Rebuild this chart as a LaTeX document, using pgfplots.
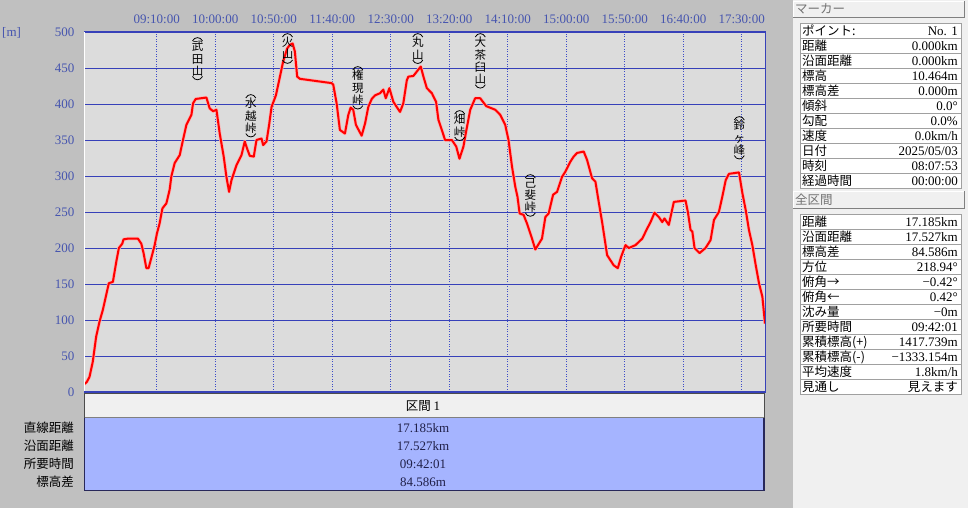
\documentclass[border=0pt]{standalone}
\usepackage{pgfplots}
\pgfplotsset{compat=1.18}
\usepackage{fontspec}
\setmainfont{Liberation Serif}
\newfontfamily\jp{Noto Sans CJK JP}
\definecolor{bgL}{RGB}{192,192,192}
\definecolor{bgR}{RGB}{240,240,240}
\definecolor{plotbg}{RGB}{220,220,220}
\definecolor{gridblue}{RGB}{55,65,185}
\definecolor{dotblue}{RGB}{60,75,200}
\definecolor{tickblue}{RGB}{70,85,175}
\definecolor{tblue}{RGB}{165,180,255}
\definecolor{navy}{RGB}{40,40,90}
\definecolor{tline}{RGB}{160,160,160}
\newcommand{\J}{\jp\fontsize{12.5bp}{15bp}\selectfont}
\newcommand{\N}{\rmfamily\fontsize{13bp}{15bp}\selectfont}
\newcommand{\prow}[3]{\node[anchor=base west,inner sep=0] at (802,#1+4.5) {\J #2};\node[anchor=base east,inner sep=0] at (958,#1+4.5) {#3};}
\newcommand{\vlab}[3]{%
  \node[anchor=north,inner sep=0,align=center,font=\jp\fontsize{11.5bp}{12.3bp}\selectfont] (L) at (#1,#2+5) {#3};
  \draw[line width=0.8bp] (#1-5,#2+5) .. controls (#1-3,#2+0.5) and (#1+3,#2+0.5) .. (#1+5,#2+5);
  \draw[line width=0.8bp] ([shift={(-5bp,0bp)}]L.south) .. controls ([shift={(-3bp,-4.5bp)}]L.south) and ([shift={(3bp,-4.5bp)}]L.south) .. ([shift={(5bp,0bp)}]L.south);
}
\pgfplotstableread{
t e
0 10.5
2.4 14
4.7 21
7.5 42
10.4 77
13.3 98
16.1 114
19.0 135
21.2 151
24.7 153
27.6 181
29.8 200
32.7 206
33.8 212
37.5 213
46.1 213
49.0 206
50.9 193
53.3 172
55.2 172
57.5 186
60.4 204
62.3 220
64.6 234
67.0 255
70.4 262
73.2 281
74.7 300
77.5 318
81.8 329
84.6 350
87.5 371
91.8 385
93.2 401
95.5 407
104.6 409
107.4 394
110.3 390
113.2 392
116.0 359
119.4 327
121.7 299
124.0 278
126.0 294
130.3 315
134.6 329
137.4 348
139.4 338
141.7 328
145.1 327
147.4 350
151.7 352
153.1 343
156.0 348
158.2 371
160.3 396
164.0 412
166.8 433
170.2 459
173.6 477
175.9 482
178.3 484
180.2 473
182.2 438
184.5 435
211.6 429
213.0 427
215.9 401
218.7 364
223.0 359
225.9 385
227.9 395
230.1 392
232.4 371
237.3 356
240.2 373
243.0 396
245.9 407
248.7 412
253.0 415
255.8 420
257.9 408
261.0 422
264.4 403
270.1 389
272.9 401
275.9 433
277.2 438
281.5 439
284.4 445
287.8 452
290.1 438
293.0 422
297.3 415
300.9 403
302.9 378
305.8 364
308.6 350
314.4 350
318.1 341
320.9 324
324.3 341
326.6 362
330.1 392
334.3 408
338.6 408
343.8 397
351.5 392
355.7 385
360.0 371
362.8 350
365.8 313
368.6 285
370.5 271
372.3 248
375.7 246
378.6 234
382.9 213
385.7 198
391.4 213
394.3 243
397.1 248
400.9 274
404.3 278
408.6 299
411.4 306
415.7 320
418.5 327
421.4 332
427.1 334
430.0 322
434.2 297
437.1 292
439.9 264
442.8 236
447.1 190
452.7 176
456.2 172
459.1 188
462.8 204
465.6 200
471.3 204
477.1 213
481.3 227
484.2 236
487.6 249
491.3 243
494.2 236
496.1 241
499.8 232
504.1 264
514.1 266
516.1 250
518.4 225
519.9 223
521.8 200
526.1 193
531.2 200
535.5 211
538.4 239
542.6 250
545.5 271
548.4 294
551.2 303
559.8 305
562.7 276
565.5 253
568.3 225
571.2 204
574.1 176
576.9 151
579.8 132
582.0 95
}\profile
\begin{document}
\begin{tikzpicture}
\begin{scope}[x=1bp,y=-1bp]
\fill[bgL] (0,0) rectangle (793,508);
\fill[bgR] (793,0) rectangle (968,508);
\end{scope}
\begin{axis}[
  at={(84bp,-392bp)}, anchor=south west, scale only axis,
  width=681bp, height=360bp,
  xmin=0, xmax=582.02, ymin=0, ymax=500,
  axis background/.style={fill=plotbg},
  axis line style={draw=none},
  xtick={62.12,112.12,162.12,212.12,262.12,312.12,362.12,412.12,462.12,512.12,562.12},
  xticklabels={09:10:00,10:00:00,10:50:00,11:40:00,12:30:00,13:20:00,14:10:00,15:00:00,15:50:00,16:40:00,17:30:00},
  xticklabel pos=upper,
  ytick={0,50,100,150,200,250,300,350,400,450,500},
  yticklabels={0,50,100,150,200,250,300,350,400,450,500},
  major tick length=0pt,
  tick label style={font=\N, text=tickblue},
  xticklabel style={yshift=5bp},
  yticklabel style={xshift=-6bp},
  xmajorgrids, ymajorgrids,
  x grid style={dotblue, line width=1bp, dash pattern=on 1bp off 1.5bp},
  y grid style={gridblue, line width=1bp},
]
\addplot[red!30, line width=3.4bp, line join=round, forget plot] table[x=t,y=e] {\profile};
\addplot[red, line width=2bp, line join=round] table[x=t,y=e] {\profile};
\end{axis}
\begin{scope}[x=1bp,y=-1bp]
% plot frame
\draw[white, line width=1bp] (84.5,31) -- (84.5,392);
\draw[gridblue, line width=1.6bp] (84,31.5) -- (766,31.5);
\draw[gridblue, line width=1.6bp] (765.5,31) -- (765.5,392.5);
\draw[gridblue, line width=1.6bp] (84,392) -- (766,392);
\node[text=tickblue, font=\N, anchor=west, inner sep=0] at (2,33) {[m]};
% peak labels
\vlab{197.5}{36}{武\\田\\山}
\vlab{250.8}{93}{水\\越\\峠}
\vlab{287.5}{32}{火\\山}
\vlab{357.8}{65}{権\\現\\峠}
\vlab{417.8}{32}{丸\\山}
\vlab{480.3}{32}{大\\茶\\臼\\山}
\vlab{459.7}{109}{畑\\峠}
\vlab{530.3}{173}{己\\斐\\峠}
\vlab{739.3}{115}{鈴\\ヶ\\峰}
% bottom table
\fill[bgR] (84,393.5) rectangle (764.5,418);
\draw[gray!60!black, line width=1bp] (84.5,418) -- (84.5,393.8) -- (764.2,393.8) -- (764.2,418);
\draw[gray, line width=1bp] (85,417.5) -- (763.5,417.5);
\fill[tblue] (84,418) rectangle (764.5,491);
\draw[navy, line width=1.2bp] (84.6,418) -- (84.6,490.6) -- (764,490.6) -- (764,418);
\node[anchor=base, inner sep=0] at (423,410.5) {\J 区間 \N 1};
\node[anchor=base, inner sep=0, text=navy!80!black] at (423,432) {\N 17.185km};
\node[anchor=base, inner sep=0, text=navy!80!black] at (423,450) {\N 17.527km};
\node[anchor=base, inner sep=0, text=navy!80!black] at (423,468) {\N 09:42:01};
\node[anchor=base, inner sep=0, text=navy!80!black] at (423,486) {\N 84.586m};
\node[anchor=base east, inner sep=0] at (74,432) {\J 直線距離};
\node[anchor=base east, inner sep=0] at (74,450) {\J 沿面距離};
\node[anchor=base east, inner sep=0] at (74,468) {\J 所要時間};
\node[anchor=base east, inner sep=0] at (74,486) {\J 標高差};
% right panel headers
\fill[bgR] (793,1) rectangle (964,17);
\draw[gray, line width=1bp] (793,17) -- (964,17) -- (964,1);
\draw[white, line width=1bp] (793.5,17) -- (793.5,1) -- (964,1);
\node[anchor=base west, inner sep=0, text=gray!90!black] at (795,13.5) {\J マーカー};
\fill[bgR] (793,191) rectangle (964,208);
\draw[gray, line width=1bp] (793,208) -- (964,208) -- (964,191);
\draw[white, line width=1bp] (793.5,208) -- (793.5,191) -- (964,191);
\node[anchor=base west, inner sep=0, text=gray!90!black] at (795,204.5) {\J 全区間};
% table 1
\fill[white] (800,23) rectangle (961,188);
\foreach \k in {1,...,10} {\draw[tline, line width=1bp] (800,23+15*\k) -- (961,23+15*\k);}
\draw[tline, line width=1bp] (800,23) rectangle (961,188);
\begingroup\N
\prow{30.5}{ポイント:}{No. 1}
\prow{45.5}{距離}{0.000km}
\prow{60.5}{沿面距離}{0.000km}
\prow{75.5}{標高}{10.464m}
\prow{90.5}{標高差}{0.000m}
\prow{105.5}{傾斜}{0.0°}
\prow{120.5}{勾配}{0.0\%}
\prow{135.5}{速度}{0.0km/h}
\prow{150.5}{日付}{2025/05/03}
\prow{165.5}{時刻}{08:07:53}
\prow{180.5}{経過時間}{00:00:00}
% table 2
\fill[white] (800,214) rectangle (961,394);
\foreach \k in {1,...,11} {\draw[tline, line width=1bp] (800,214+15*\k) -- (961,214+15*\k);}
\draw[tline, line width=1bp] (800,214) rectangle (961,394);
\prow{221.5}{距離}{17.185km}
\prow{236.5}{沿面距離}{17.527km}
\prow{251.5}{標高差}{84.586m}
\prow{266.5}{方位}{218.94°}
\prow{281.5}{俯角→}{−0.42°}
\prow{296.5}{俯角←}{0.42°}
\prow{311.5}{沈み量}{−0m}
\prow{326.5}{所要時間}{09:42:01}
\prow{341.5}{累積標高(+)}{1417.739m}
\prow{356.5}{累積標高(-)}{−1333.154m}
\prow{371.5}{平均速度}{1.8km/h}
\prow{386.5}{見通し}{\J 見えます}
\endgroup
\end{scope}
\pgfresetboundingbox
\path[use as bounding box] (0,0) rectangle (968bp,-508bp);
\end{tikzpicture}
\end{document}
